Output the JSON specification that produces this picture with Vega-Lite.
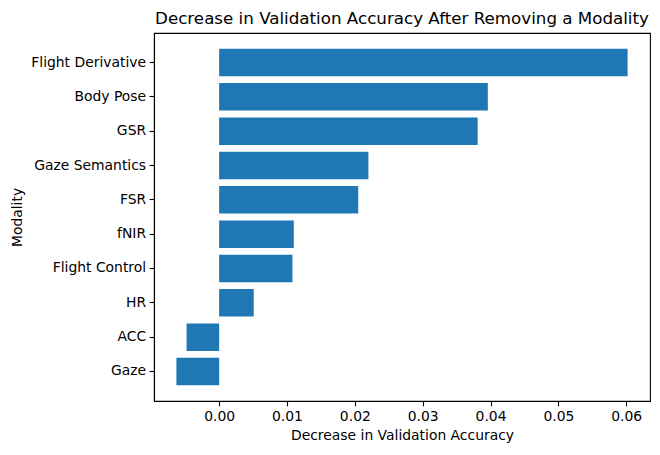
{
  "$schema": "https://vega.github.io/schema/vega-lite/v6.json",
  "width": 496,
  "height": 368,
  "autosize": {"type": "none"},
  "padding": {"left": 154, "top": 33, "right": 10, "bottom": 54},
  "background": "white",
  "title": {
    "text": "Decrease in Validation Accuracy After Removing a Modality",
    "font": "DejaVu Sans",
    "fontSize": 16.7,
    "fontWeight": "normal",
    "color": "black",
    "anchor": "middle",
    "frame": "group",
    "offset": 5.5
  },
  "config": {
    "view": {"stroke": "black", "strokeWidth": 1.1},
    "axis": {
      "grid": false,
      "domainColor": "black",
      "domainWidth": 1.1,
      "tickColor": "black",
      "tickWidth": 1.1,
      "tickSize": 4.9,
      "labelPadding": 3.5,
      "labelFont": "DejaVu Sans",
      "labelFontSize": 13.9,
      "labelColor": "black",
      "titleFont": "DejaVu Sans",
      "titleFontSize": 13.9,
      "titleFontWeight": "normal",
      "titleColor": "black"
    }
  },
  "data": {
    "values": [
      {"modality": "Flight Derivative", "decrease": 0.0602},
      {"modality": "Body Pose", "decrease": 0.0396},
      {"modality": "GSR", "decrease": 0.0381},
      {"modality": "Gaze Semantics", "decrease": 0.0220},
      {"modality": "FSR", "decrease": 0.0205},
      {"modality": "fNIR", "decrease": 0.0110},
      {"modality": "Flight Control", "decrease": 0.0108},
      {"modality": "HR", "decrease": 0.0051},
      {"modality": "ACC", "decrease": -0.0048},
      {"modality": "Gaze", "decrease": -0.0063}
    ]
  },
  "mark": {"type": "bar", "color": "#1f77b4"},
  "encoding": {
    "y": {
      "field": "modality",
      "type": "nominal",
      "sort": null,
      "scale": {"paddingInner": 0.2, "paddingOuter": 0.46},
      "axis": {"title": "Modality", "titlePadding": 6}
    },
    "x": {
      "field": "decrease",
      "type": "quantitative",
      "scale": {"domain": [-0.0096, 0.0635], "nice": false, "zero": false},
      "axis": {
        "title": "Decrease in Validation Accuracy",
        "values": [0, 0.01, 0.02, 0.03, 0.04, 0.05, 0.06],
        "format": ".2f",
        "titlePadding": 5
      }
    }
  }
}
